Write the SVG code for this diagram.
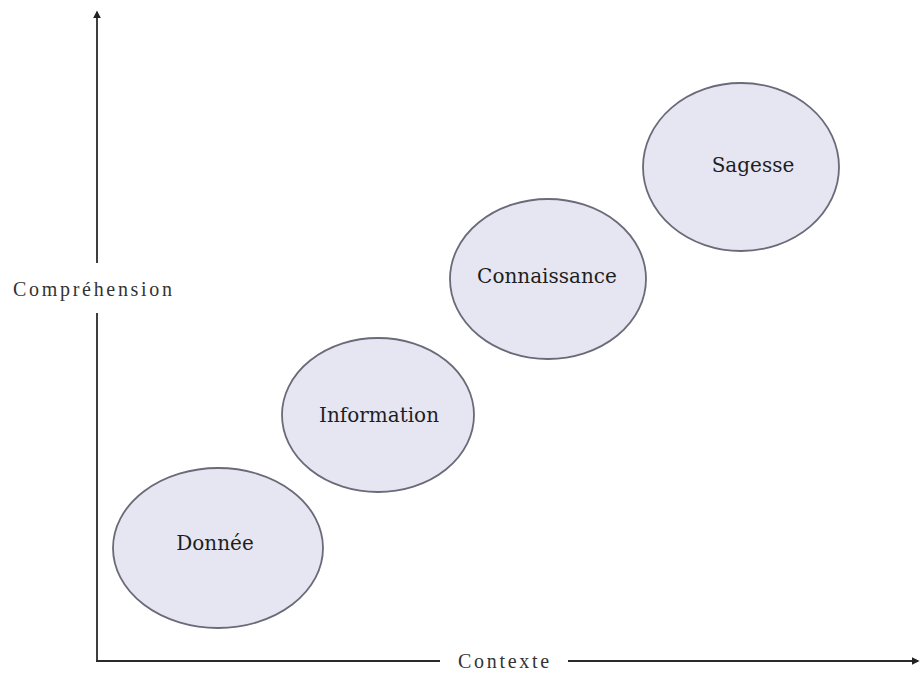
<svg xmlns="http://www.w3.org/2000/svg" width="920" height="675" viewBox="0 0 920 675">
<style>
.axis{stroke:#2a2a2a;stroke-width:1.8;fill:none}
.node ellipse{fill:#e6e6f3;stroke:#6a6a78;stroke-width:1.8}
.node text{font-family:"DejaVu Serif","Liberation Serif",serif;font-size:20px;fill:#1e1e1e;text-anchor:middle}
.axlbl{font-family:"Liberation Serif","Times New Roman",serif;font-size:20px;fill:#333;letter-spacing:2.7px}
</style>
<defs>
<marker id="ah" viewBox="0 0 10 10" refX="8" refY="5" markerWidth="8" markerHeight="8" orient="auto" markerUnits="userSpaceOnUse">
<path d="M0,0 L10,5 L0,10 z" fill="#222"/>
</marker>
</defs>
<rect width="920" height="675" fill="#fff"/>
<g id="connectors">
<line class="axis" x1="97" y1="662" x2="97" y2="313"/>
<line class="axis" x1="97" y1="263" x2="97" y2="12" marker-end="url(#ah)"/>
<line class="axis" x1="96" y1="661" x2="440" y2="661"/>
<line class="axis" x1="568" y1="661" x2="918" y2="661" marker-end="url(#ah)"/>
</g>
<g id="axis-labels">
<text class="axlbl" x="13" y="296">Compréhension</text>
<text class="axlbl" x="458" y="668">Contexte</text>
</g>
<g id="n-donnee" class="node"><ellipse cx="218" cy="548" rx="105" ry="80"/><text x="215" y="550">Donnée</text></g>
<g id="n-information" class="node"><ellipse cx="378" cy="415" rx="96" ry="77"/><text x="379" y="422">Information</text></g>
<g id="n-connaissance" class="node"><ellipse cx="548" cy="279" rx="98" ry="80"/><text x="547" y="283">Connaissance</text></g>
<g id="n-sagesse" class="node"><ellipse cx="741" cy="167" rx="98" ry="84"/><text x="753" y="172">Sagesse</text></g>
</svg>
